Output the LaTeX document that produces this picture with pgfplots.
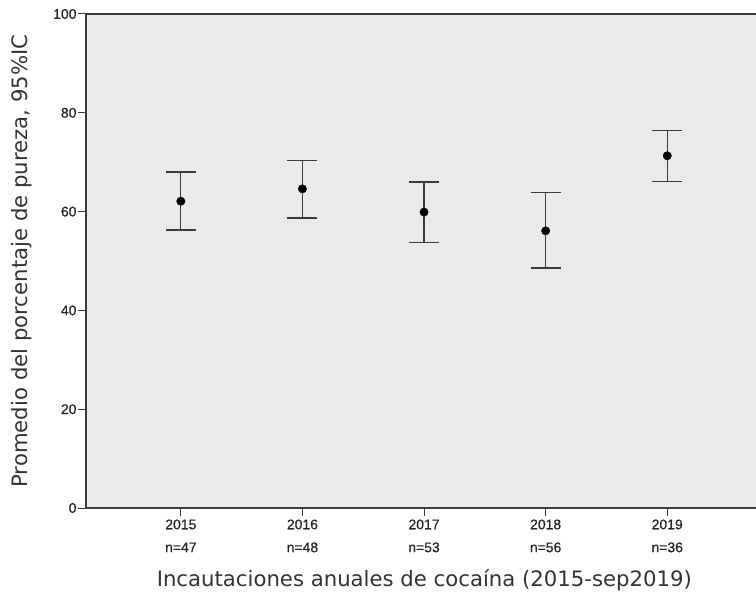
\documentclass[border=0pt]{standalone}
\usepackage{pgfplots}
\pgfplotsset{compat=1.18}
\usepackage{fontspec}
\setmainfont{DejaVu Sans}
\newfontfamily\tickfont[FakeBold=0.6]{Liberation Sans}
\definecolor{bg}{HTML}{EAEAEA}
\definecolor{ax}{HTML}{3C3C3C}
\begin{document}
\begin{tikzpicture}
\useasboundingbox (-86bp,-88bp) rectangle (670bp,508bp);
\begin{axis}[
  at={(0,0)}, anchor=south west,
  scale only axis, width=670bp, height=494bp,
  xmin=-0.78, xmax=4.73, ymin=0, ymax=100,
  axis lines=left, axis line style={ax, line width=1.2pt, -},
  axis background/.style={fill=bg},
  xtick={0,1,2,3,4},
  xticklabels={2015\\n=47, 2016\\n=48, 2017\\n=53, 2018\\n=56, 2019\\n=36},
  xticklabel style={align=center, font=\tickfont\fontsize{14}{23}\selectfont, text=black!85},
  ytick={0,20,40,60,80,100},
  yticklabel style={font=\tickfont\fontsize{14}{16}\selectfont, text=black!85, xshift=2bp},
  /pgf/number format/assume math mode=true,
  tick style={ax, line width=1pt},
  tick align=outside, major tick length=8bp,
  xlabel={Incautaciones anuales de cocaína (2015-sep2019)},
  ylabel={Promedio del porcentaje de pureza, 95\%IC},
  label style={font=\fontsize{21.3}{24}\selectfont, text=black!80},
  xlabel style={at={(rel axis cs:0.505,0)}, anchor=base, yshift=-78bp},
  ylabel style={at={(rel axis cs:0,0.5)}, anchor=base, yshift=58bp},
  clip=false,
]
\draw[ax, line width=1.2pt] (rel axis cs:0,1) -- (rel axis cs:1,1);
\addplot[only marks, mark=*, mark size=4.2bp, color=black,
  error bars/.cd, y dir=both, y explicit,
  error bar style={ax, line width=1.3pt},
  error mark options={ax, line width=1.3pt, rotate=90, mark size=15bp}]
table[x=x, y=y, y error plus=ep, y error minus=em] {
x y ep em
0 62.1 5.9 5.8
1 64.6 5.8 5.9
2 59.9 6.1 6.1
3 56.1 7.7 7.5
4 71.3 5.1 5.2
};
\end{axis}
\end{tikzpicture}
\end{document}
